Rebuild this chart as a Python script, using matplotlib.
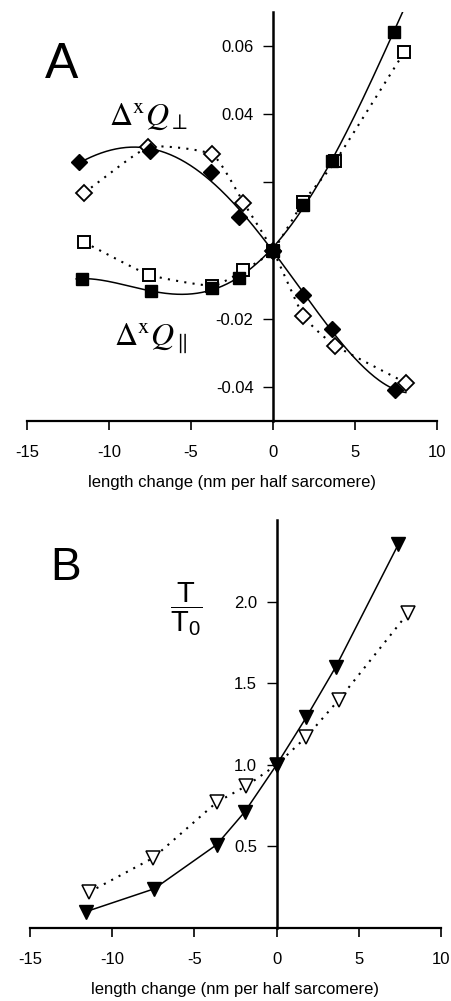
import numpy as np
import matplotlib
matplotlib.use('Agg')
import matplotlib.pyplot as plt

plt.rcParams['font.family'] = ['Liberation Sans', 'DejaVu Sans']
plt.rcParams['axes.unicode_minus'] = False
plt.rcParams['mathtext.fontset'] = 'custom'
plt.rcParams['mathtext.rm'] = 'Liberation Sans'
plt.rcParams['mathtext.it'] = 'Liberation Sans:italic'

# panel A: intensity changes of the x-ray reflection
x_perp_filled = [-11.8, -7.5, -3.8, -2.1, 0.0, 1.85, 3.6, 7.45]
q_perp_filled = [0.0259, 0.0291, 0.0232, 0.0100, 0.0, -0.0129, -0.0229, -0.0409]
x_perp_open = [-11.5, -7.6, -3.7, -1.8, 0.0, 1.85, 3.8, 8.1]
q_perp_open = [0.0170, 0.0303, 0.0282, 0.0141, 0.0, -0.0191, -0.0279, -0.0388]

x_par_filled = [-11.65, -7.45, -3.7, -2.05, 0.0, 1.8, 3.6, 7.35]
q_par_filled = [-0.0082, -0.0120, -0.0109, -0.0080, 0.0, 0.0135, 0.0262, 0.0641]
x_par_open = [-11.5, -7.55, -3.7, -1.8, 0.0, 1.85, 3.8, 8.0]
q_par_open = [0.0024, -0.0071, -0.0103, -0.0058, 0.0, 0.0144, 0.0262, 0.0582]

# panel B: relative tension
x_t_filled = [-11.6, -7.45, -3.65, -1.95, 0.0, 1.8, 3.6, 7.4]
t_filled = [0.10, 0.24, 0.51, 0.71, 1.0, 1.29, 1.60, 2.35]
x_t_open = [-11.4, -7.5, -3.65, -1.85, 0.0, 1.8, 3.8, 8.0]
t_open = [0.22, 0.43, 0.77, 0.87, 1.0, 1.17, 1.40, 1.93]

x_ticks = [-15, -10, -5, 0, 5, 10]
a_yticks = [-0.04, -0.02, 0.02, 0.04, 0.06]
a_yticklabels = ['-0.04', '-0.02', '', '0.04', '0.06']
b_yticks = [0.5, 1.0, 1.5, 2.0]
b_yticklabels = ['0.5', '1.0', '1.5', '2.0']
xlabel = 'length change (nm per half sarcomere)'

W, H = 452, 1001


def smooth(xs, ys, n=25, tension=0.5):
    """Cardinal spline through the points, only used to draw the dotted guide."""
    p = np.column_stack([xs, ys]).astype(float)
    m = np.zeros_like(p)
    m[1:-1] = (1 - tension) * (p[2:] - p[:-2]) / 2
    m[0] = (1 - tension) * (p[1] - p[0])
    m[-1] = (1 - tension) * (p[-1] - p[-2])
    t = np.linspace(0, 1, n)[:, None]
    h00 = 2 * t ** 3 - 3 * t ** 2 + 1
    h10 = t ** 3 - 2 * t ** 2 + t
    h01 = -2 * t ** 3 + 3 * t ** 2
    h11 = t ** 3 - t ** 2
    out = [h00 * p[i] + h10 * m[i] + h01 * p[i + 1] + h11 * m[i + 1] for i in range(len(p) - 1)]
    out = np.vstack(out)
    return out[:, 0], out[:, 1]


def style_axes(ax):
    for s in ['top', 'right']:
        ax.spines[s].set_visible(False)
    ax.spines['left'].set_position(('data', 0))
    ax.spines['left'].set_linewidth(1.8)
    ax.spines['bottom'].set_linewidth(1.6)
    ax.set_xlim(-15, 10)
    ax.set_xticks(x_ticks)
    ax.set_xticklabels([str(v) for v in x_ticks])
    ax.tick_params(axis='x', direction='out', length=6.5, width=1.2, pad=10.5, labelsize=12)
    ax.tick_params(axis='y', direction='out', length=7, width=1.0, pad=7, labelsize=12)
    ax.set_xlabel(xlabel, fontsize=12, labelpad=11)


fig = plt.figure(figsize=(W / 100, H / 100), dpi=100)
axA = fig.add_axes([27 / W, 1 - 421 / H, 410 / W, 409 / H])
axB = fig.add_axes([30 / W, 1 - 928 / H, 411 / W, 408 / H])

# --- A ---
xs = np.linspace(-12, 8.1, 200)
fit_perp = np.polyfit(x_perp_filled, q_perp_filled, 4)
fit_par = np.polyfit(x_par_filled, q_par_filled, 4)
axA.plot(xs, np.polyval(fit_perp, xs), color='black', lw=1.1, zorder=2)
axA.plot(xs, np.polyval(fit_par, xs), color='black', lw=1.1, zorder=2)

sx, sy = smooth(x_perp_open, q_perp_open)
axA.plot(sx, sy, color='black', lw=1.5, ls=(0, (1, 3)), zorder=2)
sx, sy = smooth(x_par_open, q_par_open)
axA.plot(sx, sy, color='black', lw=1.5, ls=(0, (1, 3)), zorder=2)

axA.plot(x_perp_open, q_perp_open, ls='none', marker='D', ms=7.8, mfc='white',
         mec='black', mew=1.3, zorder=3)
axA.plot(x_par_open, q_par_open, ls='none', marker='s', ms=8.2, mfc='white',
         mec='black', mew=1.4, zorder=3)
axA.plot(x_perp_filled, q_perp_filled, ls='none', marker='D', ms=7.8, mfc='black',
         mec='black', zorder=4)
axA.plot(x_par_filled, q_par_filled, ls='none', marker='s', ms=8.2, mfc='black',
         mec='black', zorder=4)

axA.set_ylim(-0.05, 0.07)
axA.set_yticks(a_yticks)
axA.set_yticklabels(a_yticklabels)
style_axes(axA)

# --- B ---
axB.plot(x_t_open, t_open, color='black', lw=1.5, ls=(0, (1, 3)), marker='v', ms=9.5,
         mfc='white', mec='black', mew=1.1, zorder=3)
axB.plot(x_t_filled, t_filled, color='black', lw=1.1, marker='v', ms=9.5,
         mfc='black', mec='black', zorder=4)
axB.set_ylim(0, 2.5)
axB.set_yticks(b_yticks)
axB.set_yticklabels(b_yticklabels)
style_axes(axB)

# labels
fig.text(45 / W, 1 - 78 / H, 'A', fontsize=36, ha='left', va='baseline')
fig.text(50 / W, 1 - 580 / H, 'B', fontsize=33, ha='left', va='baseline')
fig.text(109 / W, 1 - 125 / H, r'$\Delta^{\mathrm{x}}Q_{\perp}$', fontsize=23,
         math_fontfamily='stix', ha='left', va='baseline')
fig.text(114 / W, 1 - 345 / H, r'$\Delta^{\mathrm{x}}Q_{\parallel}$', fontsize=23,
         math_fontfamily='stix', ha='left', va='baseline')
fig.text(186 / W, 1 - 609 / H, r'$\dfrac{\mathrm{T}}{\mathrm{T}_{0}}$',
         fontsize=21, ha='center', va='center')

fig.savefig('out.png', dpi=100)
